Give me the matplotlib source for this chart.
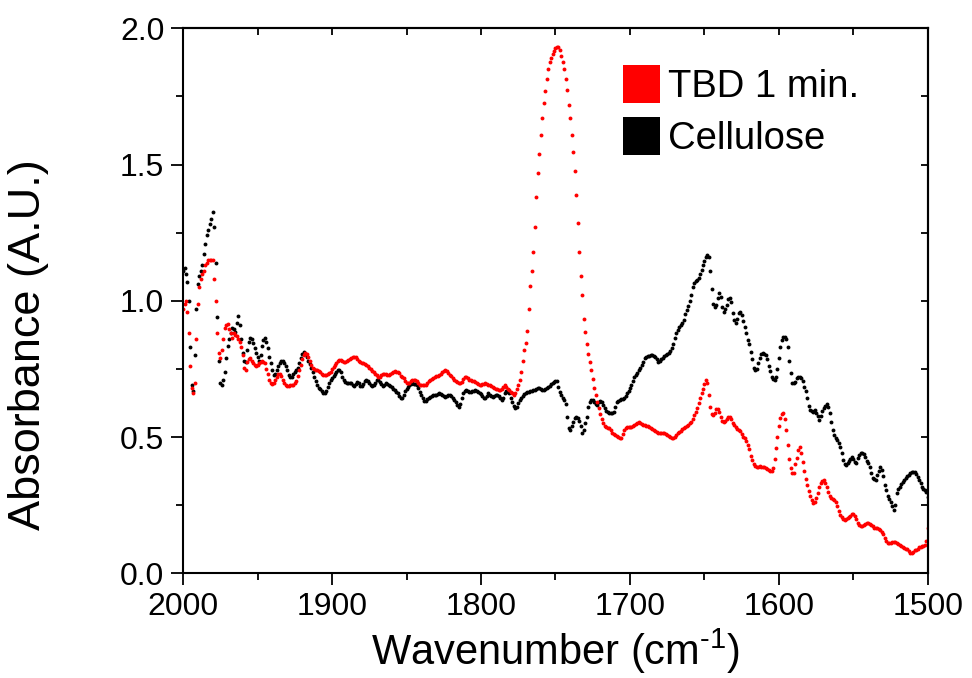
import numpy as np
import matplotlib
matplotlib.use("Agg")
import matplotlib.pyplot as plt
from matplotlib.patches import Rectangle
from matplotlib.ticker import MultipleLocator

plt.rcParams['font.family'] = ['Liberation Sans', 'DejaVu Sans']
plt.rcParams['axes.unicode_minus'] = False
plt.rcParams['mathtext.fontset'] = 'custom'
plt.rcParams['mathtext.rm'] = 'Liberation Sans'

# wavenumber grid (cm^-1), 1 cm^-1 sampling from 2000 down to 1500
wavenumber = np.arange(2000, 1499, -1)

# TBD 1 min. absorbance (rows of 10, 2000 -> 1500)
tbd_1min = [
    0.97, 0.99, 1.00, 0.96, 0.88, 0.76, 0.68, 0.66, 0.70, 0.86,
    0.99, 1.05, 1.08, 1.10, 1.11, 1.13, 1.14, 1.15, 1.15, 1.15,
    1.15, 1.08, 1.00, 0.88, 0.81, 0.79, 0.82, 0.86, 0.90, 0.91,
    0.915, 0.895, 0.88, 0.865, 0.88, 0.875, 0.87, 0.86, 0.85, 0.83,
    0.80, 0.755, 0.745, 0.775, 0.785, 0.79, 0.78, 0.77, 0.765, 0.76,
    0.765, 0.77, 0.776, 0.778, 0.776, 0.77, 0.75, 0.73, 0.71, 0.70,
    0.695, 0.70, 0.71, 0.72, 0.73, 0.733, 0.725, 0.71, 0.70, 0.69,
    0.688, 0.688, 0.69, 0.69, 0.692, 0.697, 0.705, 0.725, 0.745, 0.765,
    0.785, 0.80, 0.807, 0.803, 0.795, 0.78, 0.765, 0.755, 0.75, 0.747,
    0.745, 0.742, 0.738, 0.733, 0.728, 0.727, 0.728, 0.732, 0.735, 0.74,
    0.748, 0.757, 0.765, 0.773, 0.778, 0.782, 0.782, 0.779, 0.776, 0.776,
    0.779, 0.784, 0.788, 0.79, 0.793, 0.795, 0.793, 0.787, 0.78, 0.776,
    0.773, 0.77, 0.767, 0.764, 0.76, 0.755, 0.748, 0.743, 0.738, 0.732,
    0.726, 0.72, 0.722, 0.727, 0.732, 0.733, 0.731, 0.728, 0.727, 0.73,
    0.735, 0.74, 0.741, 0.74, 0.739, 0.735, 0.725, 0.72, 0.715, 0.705,
    0.70, 0.697, 0.70, 0.705, 0.708, 0.709, 0.709, 0.706, 0.70, 0.692,
    0.69, 0.69, 0.69, 0.692, 0.697, 0.704, 0.709, 0.713, 0.717, 0.721,
    0.723, 0.725, 0.727, 0.73, 0.737, 0.743, 0.746, 0.742, 0.735, 0.729,
    0.725, 0.718, 0.711, 0.706, 0.701, 0.698, 0.697, 0.703, 0.712, 0.72,
    0.72, 0.715, 0.71, 0.709, 0.707, 0.705, 0.703, 0.699, 0.695, 0.692,
    0.691, 0.693, 0.696, 0.697, 0.695, 0.692, 0.69, 0.686, 0.682, 0.68,
    0.678, 0.675, 0.673, 0.672, 0.678, 0.685, 0.69, 0.685, 0.677, 0.672,
    0.666, 0.66, 0.656, 0.66, 0.675, 0.69, 0.71, 0.74, 0.78, 0.82,
    0.845, 0.89, 0.97, 1.055, 1.11, 1.18, 1.27, 1.38, 1.47, 1.54,
    1.61, 1.67, 1.725, 1.77, 1.815, 1.85, 1.875, 1.89, 1.905, 1.915,
    1.928, 1.933, 1.932, 1.92, 1.90, 1.875, 1.85, 1.815, 1.775, 1.72,
    1.67, 1.61, 1.545, 1.475, 1.39, 1.285, 1.18, 1.09, 1.02, 0.935,
    0.885, 0.84, 0.805, 0.775, 0.745, 0.712, 0.68, 0.655, 0.63, 0.605,
    0.585, 0.565, 0.55, 0.54, 0.537, 0.535, 0.532, 0.525, 0.515, 0.51,
    0.507, 0.504, 0.501, 0.498, 0.495, 0.51, 0.527, 0.535, 0.538, 0.538,
    0.538, 0.538, 0.54, 0.543, 0.548, 0.553, 0.556, 0.553, 0.549, 0.546,
    0.544, 0.541, 0.539, 0.537, 0.534, 0.531, 0.527, 0.522, 0.518, 0.515,
    0.514, 0.515, 0.516, 0.514, 0.512, 0.508, 0.503, 0.50, 0.497, 0.495,
    0.50, 0.508, 0.515, 0.52, 0.522, 0.528, 0.532, 0.536, 0.54, 0.545,
    0.55, 0.555, 0.565, 0.58, 0.593, 0.607, 0.625, 0.643, 0.66, 0.675,
    0.695, 0.709, 0.70, 0.655, 0.612, 0.585, 0.582, 0.59, 0.603, 0.604,
    0.593, 0.572, 0.558, 0.556, 0.56, 0.565, 0.575, 0.572, 0.565, 0.553,
    0.545, 0.537, 0.531, 0.527, 0.521, 0.512, 0.502, 0.495, 0.485, 0.472,
    0.455, 0.432, 0.415, 0.40, 0.393, 0.39, 0.391, 0.392, 0.391, 0.39,
    0.39, 0.387, 0.383, 0.379, 0.375, 0.376, 0.388, 0.42, 0.46, 0.50,
    0.54, 0.57, 0.586, 0.589, 0.568, 0.525, 0.47, 0.42, 0.385, 0.367,
    0.368, 0.40, 0.423, 0.453, 0.465, 0.44, 0.41, 0.375, 0.345, 0.325,
    0.303, 0.285, 0.269, 0.258, 0.26, 0.275, 0.296, 0.318, 0.332, 0.34,
    0.341, 0.333, 0.316, 0.298, 0.285, 0.278, 0.274, 0.268, 0.26, 0.248,
    0.23, 0.214, 0.205, 0.20, 0.196, 0.198, 0.202, 0.206, 0.21, 0.218,
    0.219, 0.212, 0.198, 0.185, 0.176, 0.172, 0.172, 0.176, 0.18, 0.183,
    0.184, 0.182, 0.177, 0.173, 0.168, 0.165, 0.165, 0.164, 0.159, 0.152,
    0.145, 0.128, 0.118, 0.113, 0.11, 0.113, 0.116, 0.116, 0.114, 0.11,
    0.106, 0.103, 0.099, 0.095, 0.092, 0.091, 0.088, 0.083, 0.075, 0.073,
    0.08, 0.086, 0.087, 0.091, 0.095, 0.098, 0.099, 0.10, 0.105, 0.118,
    0.165,
]

# Cellulose absorbance (rows of 10, 2000 -> 1500)
cellulose = [
    1.11, 1.12, 1.10, 1.07, 1.00, 0.83, 0.69, 0.67, 0.80, 0.97,
    1.06, 1.09, 1.11, 1.13, 1.17, 1.21, 1.24, 1.26, 1.28, 1.30,
    1.325, 1.27, 1.14, 0.94, 0.78, 0.70, 0.69, 0.71, 0.74, 0.79,
    0.835, 0.86, 0.88, 0.90, 0.895, 0.887, 0.92, 0.945, 0.91, 0.86,
    0.81, 0.78, 0.776, 0.82, 0.85, 0.862, 0.86, 0.845, 0.825, 0.81,
    0.795, 0.78, 0.80, 0.835, 0.856, 0.862, 0.848, 0.825, 0.795, 0.77,
    0.745, 0.727, 0.73, 0.745, 0.76, 0.77, 0.78, 0.778, 0.772, 0.76,
    0.745, 0.728, 0.72, 0.72, 0.73, 0.739, 0.745, 0.755, 0.77, 0.79,
    0.805, 0.812, 0.805, 0.795, 0.78, 0.767, 0.755, 0.738, 0.72, 0.705,
    0.69, 0.68, 0.675, 0.67, 0.662, 0.66, 0.67, 0.685, 0.697, 0.708,
    0.716, 0.723, 0.73, 0.738, 0.745, 0.746, 0.738, 0.72, 0.71, 0.703,
    0.698, 0.697, 0.698, 0.699, 0.692, 0.688, 0.695, 0.702, 0.697, 0.686,
    0.688, 0.696, 0.705, 0.709, 0.704, 0.697, 0.69, 0.688, 0.692, 0.70,
    0.708, 0.709, 0.703, 0.695, 0.688, 0.692, 0.698, 0.695, 0.69, 0.688,
    0.683, 0.677, 0.672, 0.667, 0.66, 0.652, 0.645, 0.643, 0.655, 0.668,
    0.678, 0.685, 0.69, 0.695, 0.697, 0.696, 0.693, 0.69, 0.68, 0.667,
    0.655, 0.643, 0.633, 0.632, 0.638, 0.645, 0.648, 0.65, 0.653, 0.654,
    0.656, 0.658, 0.66, 0.658, 0.653, 0.65, 0.648, 0.65, 0.653, 0.654,
    0.65, 0.643, 0.635, 0.627, 0.618, 0.612, 0.622, 0.642, 0.66, 0.67,
    0.672, 0.67, 0.667, 0.666, 0.668, 0.67, 0.672, 0.67, 0.665, 0.661,
    0.658, 0.652, 0.645, 0.642, 0.65, 0.66, 0.655, 0.65, 0.648, 0.65,
    0.653, 0.654, 0.652, 0.643, 0.636, 0.645, 0.662, 0.668, 0.667, 0.66,
    0.642, 0.628, 0.615, 0.606, 0.612, 0.624, 0.635, 0.645, 0.652, 0.657,
    0.66, 0.664, 0.666, 0.668, 0.67, 0.672, 0.674, 0.677, 0.679, 0.679,
    0.676, 0.672, 0.672, 0.675, 0.68, 0.684, 0.688, 0.693, 0.698, 0.703,
    0.707, 0.706, 0.682, 0.665, 0.655, 0.645, 0.636, 0.62, 0.575, 0.535,
    0.525, 0.54, 0.556, 0.569, 0.575, 0.57, 0.56, 0.54, 0.514, 0.525,
    0.55, 0.575, 0.61, 0.63, 0.635, 0.636, 0.63, 0.622, 0.618, 0.628,
    0.634, 0.63, 0.618, 0.606, 0.595, 0.592, 0.588, 0.587, 0.588, 0.593,
    0.61, 0.63, 0.634, 0.636, 0.638, 0.641, 0.643, 0.65, 0.66, 0.67,
    0.68, 0.69, 0.705, 0.72, 0.728, 0.736, 0.745, 0.755, 0.765, 0.777,
    0.789, 0.793, 0.796, 0.798, 0.80, 0.801, 0.799, 0.795, 0.785, 0.777,
    0.78, 0.786, 0.791, 0.797, 0.802, 0.805, 0.808, 0.815, 0.826, 0.84,
    0.862, 0.88, 0.893, 0.905, 0.912, 0.92, 0.93, 0.95, 0.965, 0.98,
    1.00, 1.02, 1.05, 1.066, 1.073, 1.077, 1.085, 1.10, 1.112, 1.13,
    1.145, 1.162, 1.168, 1.16, 1.11, 1.045, 0.99, 0.978, 0.985, 1.009,
    1.027, 1.015, 0.978, 0.96, 0.97, 0.985, 1.005, 1.009, 0.995, 0.954,
    0.93, 0.917, 0.935, 0.955, 0.96, 0.948, 0.925, 0.905, 0.88, 0.855,
    0.84, 0.813, 0.785, 0.755, 0.746, 0.75, 0.77, 0.79, 0.803, 0.807,
    0.805, 0.80, 0.785, 0.76, 0.742, 0.72, 0.713, 0.709, 0.72, 0.75,
    0.79, 0.83, 0.856, 0.866, 0.868, 0.86, 0.83, 0.78, 0.735, 0.70,
    0.70, 0.703, 0.715, 0.721, 0.72, 0.715, 0.705, 0.685, 0.67, 0.645,
    0.615, 0.599, 0.594, 0.593, 0.599, 0.59, 0.578, 0.562, 0.578, 0.595,
    0.605, 0.615, 0.623, 0.611, 0.587, 0.555, 0.525, 0.508, 0.495, 0.489,
    0.478, 0.465, 0.443, 0.416, 0.40, 0.398, 0.403, 0.412, 0.42, 0.428,
    0.418, 0.408, 0.405, 0.422, 0.435, 0.44, 0.44, 0.437, 0.428, 0.413,
    0.405, 0.39, 0.367, 0.35, 0.345, 0.342, 0.36, 0.375, 0.39, 0.38,
    0.358, 0.325, 0.305, 0.285, 0.272, 0.26, 0.248, 0.232, 0.25, 0.294,
    0.31, 0.318, 0.326, 0.336, 0.343, 0.35, 0.356, 0.362, 0.369, 0.371,
    0.373, 0.371, 0.364, 0.355, 0.342, 0.33, 0.318, 0.31, 0.305, 0.298,
    0.28,
]

series_labels = ["TBD 1 min.", "Cellulose"]
series_colors = ["#ff0000", "#000000"]

x_ticks = [2000, 1900, 1800, 1700, 1600, 1500]
y_ticks = [0.0, 0.5, 1.0, 1.5, 2.0]

n = min(len(wavenumber), len(tbd_1min), len(cellulose))

fig = plt.figure(figsize=(9.72, 6.78), dpi=100)
ax = fig.add_axes([0.1883, 0.1544, 0.7664, 0.8039])

ax.plot(wavenumber[:n], cellulose[:n], linestyle='none', marker='o',
        markersize=2.8, markeredgewidth=0, color=series_colors[1])
ax.plot(wavenumber[:n], tbd_1min[:n], linestyle='none', marker='o',
        markersize=2.8, markeredgewidth=0, color=series_colors[0])

ax.set_xlim(2000, 1500)
ax.set_ylim(0.0, 2.0)
ax.set_xticks(x_ticks)
ax.set_yticks(y_ticks)
ax.set_yticklabels([f"{v:.1f}" for v in y_ticks])
ax.xaxis.set_minor_locator(MultipleLocator(50))
ax.yaxis.set_minor_locator(MultipleLocator(0.25))

for s in ax.spines.values():
    s.set_linewidth(1.5)
    s.set_color('black')

ax.tick_params(which='major', direction='out', length=8.5, width=1.3,
               labelsize=23, pad=5, top=False, right=False)
ax.tick_params(which='minor', direction='out', length=5, width=1.3,
               top=False, right=False)

# inward ticks on the top and right frame
secx = ax.secondary_xaxis('top')
secx.set_xticks(x_ticks)
secx.xaxis.set_minor_locator(MultipleLocator(50))
secx.tick_params(which='both', direction='in', length=5, width=1.3, labeltop=False)
secy = ax.secondary_yaxis('right')
secy.set_yticks(y_ticks)
secy.yaxis.set_minor_locator(MultipleLocator(0.25))
secy.tick_params(which='both', direction='in', length=5, width=1.3, labelright=False)
for sa in (secx, secy):
    for s in sa.spines.values():
        s.set_linewidth(1.5)

ax.set_xlabel("Wavenumber (cm$^{\\text{-1}}$)", fontsize=30)
ax.set_ylabel("Absorbance (A.U.)", fontsize=32.5)
ax.xaxis.set_label_coords(0.5, -0.098)
ax.yaxis.set_label_coords(-0.18, 0.42)

# legend: coloured squares with labels
sq_w, sq_h = 37 / 745, 38 / 545
leg_x = (623 - 183) / 745
leg_tops = [(573.3 - 65) / 545, (573.3 - 117) / 545]
for lab, col, top in zip(series_labels, series_colors, leg_tops):
    ax.add_patch(Rectangle((leg_x, top - sq_h), sq_w, sq_h, transform=ax.transAxes,
                           facecolor=col, edgecolor='none', clip_on=False))
    ax.text(leg_x + sq_w + 8 / 745, top - sq_h / 2 - 3 / 545, lab, transform=ax.transAxes,
            fontsize=27.5, va='center', ha='left')

fig.savefig("out.png", dpi=100, facecolor='white')
